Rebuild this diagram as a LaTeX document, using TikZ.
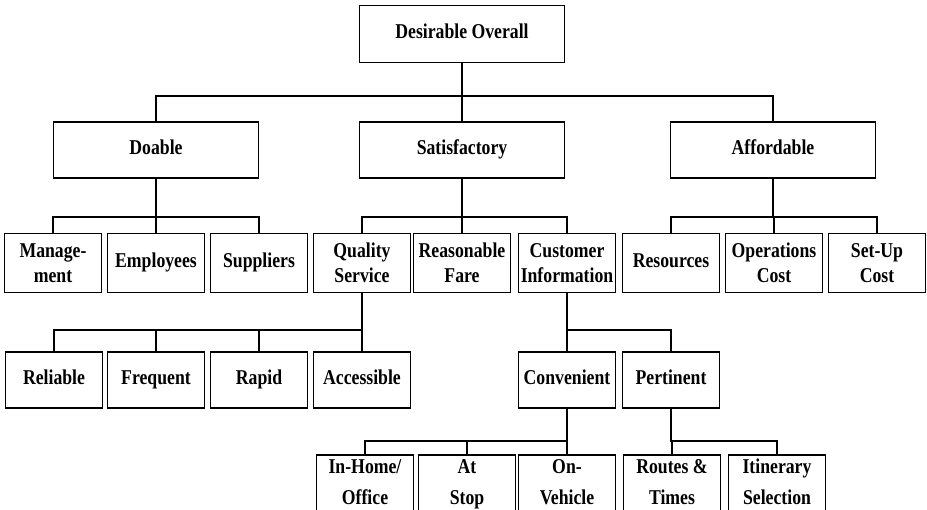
\documentclass[tikz,border=0pt]{standalone}
\usepackage{fontspec}
\setmainfont{Liberation Serif}[FakeStretch=0.84]
\newcommand{\twolines}[2]{\raisebox{0pt}[25.5pt][2.5pt]{\begin{tabular}[b]{@{}c@{}}#1\\[3pt]#2\end{tabular}}}

\begin{document}
\begin{tikzpicture}[x=0.02cm, y=-0.02cm, line width=1pt,
  box/.style={draw, fill=white, align=center, inner sep=1pt, font=\fontsize{12}{14.5}\selectfont\bfseries},
  one/.style={text height=8pt, text depth=2.5pt},
  wide/.style={box, one, minimum width=4.1cm, minimum height=1.12cm},
  leaf/.style={box, minimum width=1.94cm, minimum height=1.18cm},
  low/.style={box, one, minimum width=1.94cm, minimum height=1.12cm},
  bottom/.style={box, minimum width=1.94cm, minimum height=1.16cm}]
\useasboundingbox (0,0) rectangle (927,510);
\node[wide, minimum height=1.14cm] (top) at (462,34) {Desirable Overall};
\node[wide] (doable) at (156,150) {Doable};
\node[wide] (satis) at (462,150) {Satisfactory};
\node[wide] (afford) at (773,150) {Affordable};
% third row
\node[leaf] (mgmt) at (53,263) {Manage-\\ment};
\node[leaf, one] (empl) at (156,263) {Employees};
\node[leaf, one] (supp) at (259,263) {Suppliers};
\node[leaf] (quality) at (362,263) {Quality\\Service};
\node[leaf] (fare) at (462,263) {Reasonable\\Fare};
\node[leaf] (custinfo) at (567,263) {Customer\\Information};
\node[leaf, one] (resrc) at (671,263) {Resources};
\node[leaf] (opcost) at (774,263) {Operations\\Cost};
\node[leaf] (setup) at (877,263) {Set-Up\\Cost};
% fourth row
\node[low] (reliable) at (54,380) {Reliable};
\node[low] (frequent) at (156,380) {Frequent};
\node[low] (rapid) at (259,380) {Rapid};
\node[low] (access) at (362,380) {Accessible};
\node[low] (conv) at (567,380) {Convenient};
\node[low] (pert) at (671,380) {Pertinent};
% last row
\node[bottom] (inhome) at (365,484) {\twolines{In-Home/}{Office}};
\node[bottom] (atstop) at (467,484) {\twolines{At}{Stop}};
\node[bottom] (onveh) at (567,484) {\twolines{On-}{Vehicle}};
\node[bottom] (routes) at (672,484) {\twolines{Routes \&}{Times}};
\node[bottom] (itin) at (777,484) {\twolines{Itinerary}{Selection}};
% connectors
\foreach \c in {doable,satis,afford} \draw (top.south) -- ++(0,33) -| (\c.north);
\foreach \c in {mgmt,empl,supp} \draw (doable.south) -- ++(0,38) -| (\c.north);
\foreach \c in {quality,fare,custinfo} \draw (satis.south) -- ++(0,38) -| (\c.north);
\foreach \c in {resrc,opcost,setup} \draw (afford.south) -- ++(0,38) -| (\c.north);
\foreach \c in {reliable,frequent,rapid,access} \draw (quality.south) -- ++(0,37) -| (\c.north);
\foreach \c in {conv,pert} \draw (custinfo.south) -- ++(0,37) -| (\c.north);
\foreach \c in {inhome,atstop,onveh} \draw (conv.south) -- ++(0,32) -| (\c.north);
\foreach \c in {routes,itin} \draw (pert.south) -- ++(0,32) -| (\c.north);
\end{tikzpicture}
\end{document}
